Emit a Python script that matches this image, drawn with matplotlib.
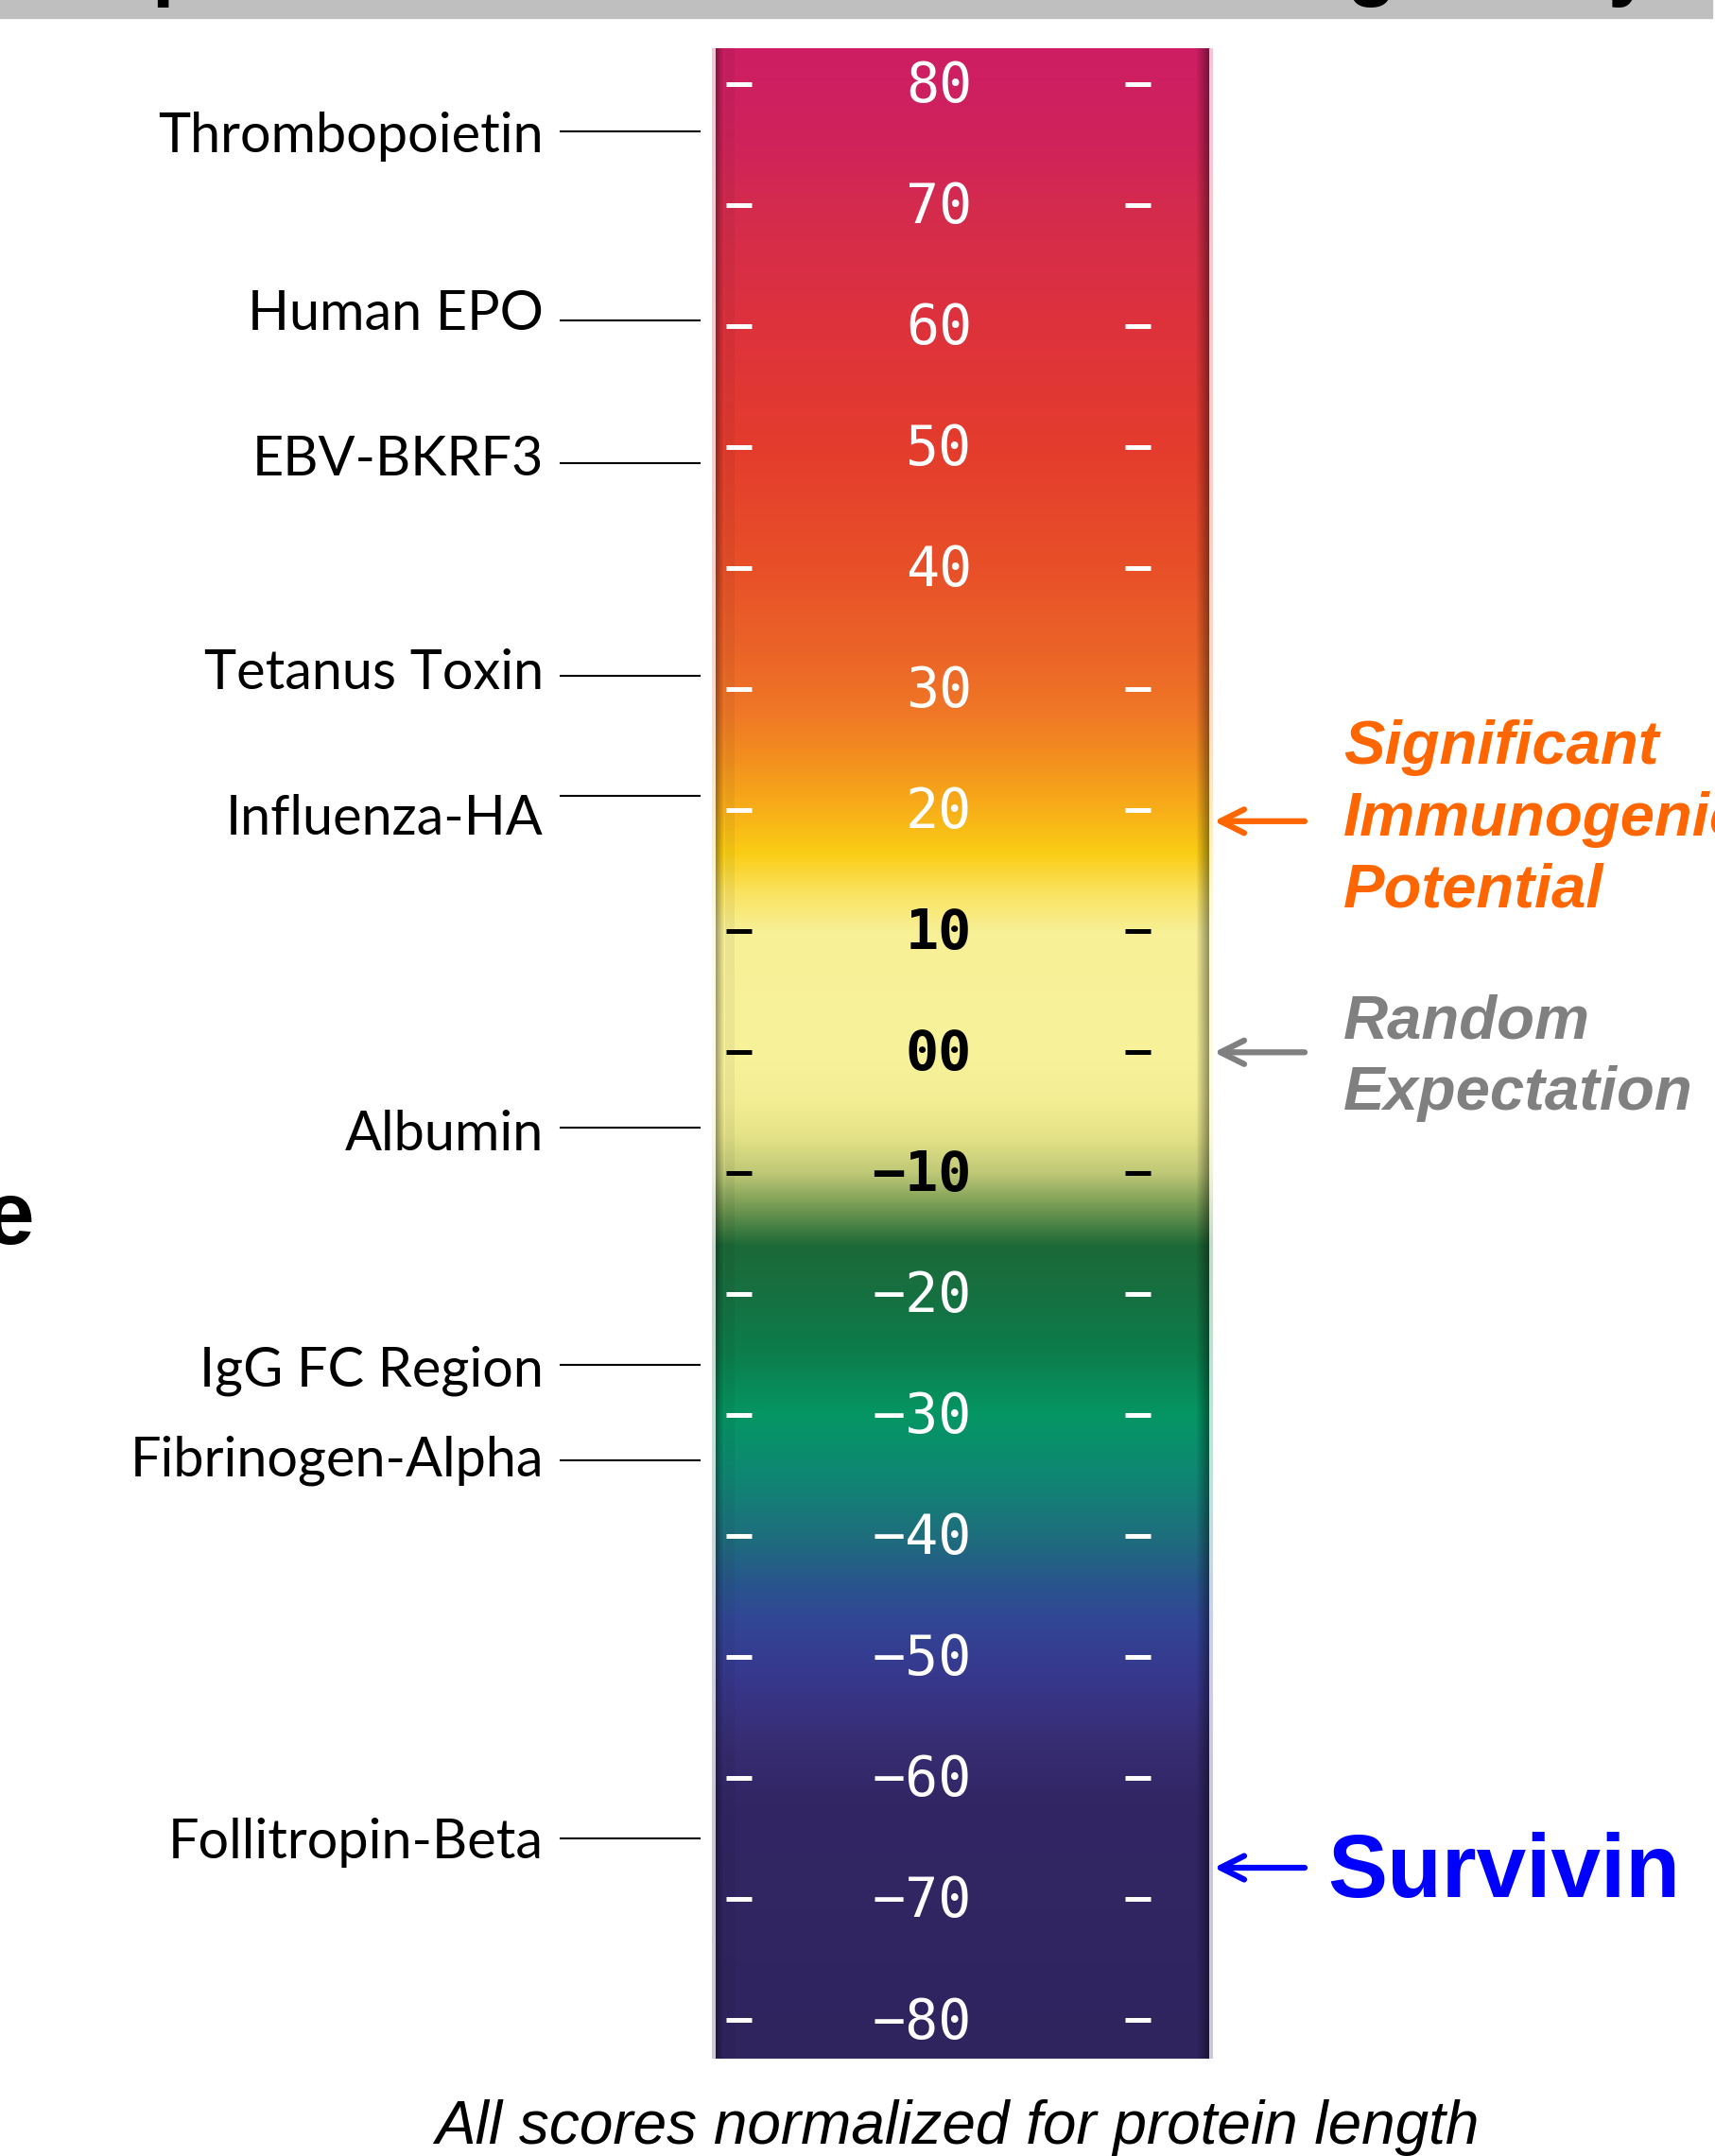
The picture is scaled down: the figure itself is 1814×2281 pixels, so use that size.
import numpy as np
import matplotlib
matplotlib.use('Agg')
import matplotlib.pyplot as plt

# score scale printed on the bar
tick_values = [80, 70, 60, 50, 40, 30, 20, 10, 0, -10, -20, -30, -40, -50, -60, -70, -80]
tick_labels = ['80', '70', '60', '50', '40', '30', '20', '10', '00', '\u221210', '\u221220',
               '\u221230', '\u221240', '\u221250', '\u221260', '\u221270', '\u221280']
dark_ticks = [10, 0, -10]

# reference proteins on the left
proteins = ['Thrombopoietin', 'Human EPO', 'EBV-BKRF3', 'Tetanus Toxin', 'Influenza-HA',
            'Albumin', 'IgG FC Region', 'Fibrinogen-Alpha', 'Follitropin-Beta']
scores = [76.1, 60.5, 48.7, 31.1, 21.2, -6.2, -25.8, -33.7, -65.0]
label_y = [74.4, 59.7, 47.7, 30.0, 18.0, -8.1, -27.6, -35.0, -66.6]

# markers on the right
significant = 19.1
random_exp = 0.0
survivin = -67.4

# colour stops of the bar, score -> rgb
stop_v = [83, 75, 70, 60, 50, 40, 33, 28, 24, 20, 16.5, 13, 10, 0, -4, -7, -10, -13, -16,
          -20, -25, -30, -35, -40, -44, -47, -52, -57, -62, -84]
stop_c = [(205, 30, 100), (208, 35, 90), (212, 43, 78), (222, 50, 60), (228, 60, 45),
          (232, 80, 40), (235, 100, 40), (240, 120, 38), (243, 145, 30), (248, 175, 25),
          (250, 205, 20), (250, 228, 100), (247, 240, 150), (248, 242, 155), (243, 238, 148),
          (228, 226, 135), (190, 200, 118), (110, 150, 80), (28, 105, 55), (22, 112, 65),
          (12, 126, 76), (5, 150, 100), (15, 135, 115), (30, 110, 125), (40, 85, 140),
          (50, 70, 150), (55, 55, 140), (55, 45, 115), (50, 38, 100), (48, 36, 95)]

W, H = 1814, 2281
PX = 12.8            # pixels per score unit
V_TOP = 80 + 89.3 / PX
V_BOT = V_TOP - H / PX

fig = plt.figure(figsize=(W / 100, H / 100), dpi=100)
ax = fig.add_axes([0, 0, 1, 1])
ax.set_xlim(0, W)
ax.set_ylim(V_BOT, V_TOP)
ax.axis('off')

# gradient bar
bar_top = V_TOP - 51 / PX
bar_bot = V_TOP - 2178 / PX
vv = np.linspace(bar_top, bar_bot, 1400)
sv = np.array(stop_v[::-1], float)
sc = np.array(stop_c[::-1], float) / 255
col = np.stack([np.interp(vv, sv, sc[:, k]) for k in range(3)], axis=1)

ncol = 530
shade = np.ones(ncol)
shade[4:14] = np.linspace(0.66, 1.0, 10)
shade[14:24] = 0.95
shade[513:526] = np.linspace(0.95, 0.6, 13)
img = col[:, None, :] * shade[None, :, None]
halo = 0.25 * col[:, None, :] + 0.75
img[:, :4, :] = halo
img[:, 526:, :] = halo
ax.imshow(np.clip(img, 0, 1), extent=(753, 1283, bar_bot, bar_top), aspect='auto',
          interpolation='bilinear', zorder=1)

# dashes and numbers
for v, lab in zip(tick_values, tick_labels):
    c = 'black' if v in dark_ticks else 'white'
    for x0, x1 in ((768, 795), (1190, 1217)):
        ax.plot([x0, x1], [v, v], color=c, lw=3.6, solid_capstyle='butt', zorder=3)
    ax.text(1028, v - 1.5, lab, color=c, ha='right', va='baseline', fontsize=42,
            family='DejaVu Sans Mono', weight='bold' if v in dark_ticks else 'normal',
            zorder=3)

# protein labels
for name, s, ly in zip(proteins, scores, label_y):
    ax.plot([593, 740], [s, s], color='black', lw=1.5, zorder=2)
    ax.text(575, ly, name, ha='right', va='baseline', fontsize=41.5, family='Lato')

# right-hand annotations
def arrow(v, c):
    ax.annotate('', xy=(1284, v), xytext=(1380, v),
                arrowprops=dict(arrowstyle='->,head_length=18,head_width=9', color=c,
                                lw=4.5, mutation_scale=1, shrinkA=0, shrinkB=0,
                                capstyle='round', joinstyle='round'))

orange = '#FF6600'
grey = '#808080'
blue = '#0000FF'
arrow(significant, orange)
arrow(random_exp, grey)
arrow(survivin, blue)

rt = dict(ha='left', va='baseline', fontsize=47, family='Liberation Sans',
          weight='bold', style='italic')
for txt, dy in (('Significant', 4.73), ('Immunogenic', -1.2), ('Potential', -7.12)):
    ax.text(1421, significant + dy, txt, color=orange, **rt)
for txt, dy in (('Random', 1.17), ('Expectation', -4.74)):
    ax.text(1421, random_exp + dy, txt, color=grey, **rt)
ax.text(1404, survivin - 2.4, 'Survivin', color=blue, ha='left', va='baseline',
        fontsize=68, family='Liberation Sans', weight='bold')

# page furniture: grey title strip with cut-off title, stray letter, footnote
fig.patches.append(plt.Rectangle((0, 1 - 19 / H), 1811 / W, 19 / H, transform=fig.transFigure,
                                 color='#BFBFBF', zorder=0))
for ch, x in (('p', 160), ('g', 1425), ('y', 1700)):
    fig.text(x / W, 1 + 10 / H, ch, ha='left', va='baseline', fontsize=61,
             family='Liberation Sans', weight='bold', color='black')
fig.text(36 / W, 1 - 1316 / H, 'e', ha='right', va='baseline', fontsize=68,
         family='Liberation Sans', weight='bold', color='black')
fig.text(1012 / W, 1 - 2268 / H, 'All scores normalized for protein length', ha='center',
         va='baseline', fontsize=46, family='Liberation Sans',
         style='italic', color='black')

fig.savefig('out.png', dpi=100)
